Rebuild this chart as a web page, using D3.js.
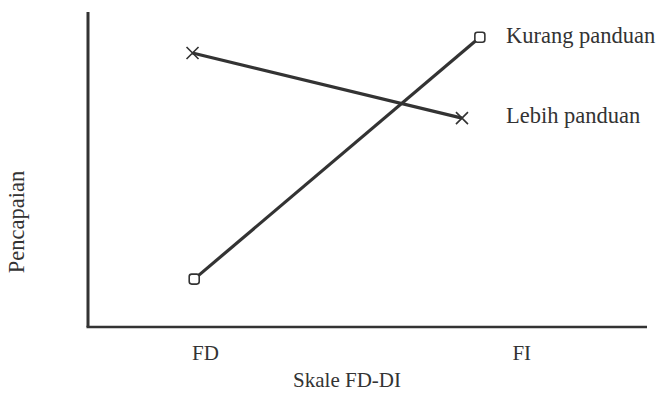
<!DOCTYPE html>
<html><head><meta charset="utf-8">
<script src="https://cdn.jsdelivr.net/npm/d3@7"></script>
<style>html,body{margin:0;padding:0;background:#fff;}svg{display:block;}</style>
</head><body>
<script>
// Data (arbitrary 0-100 scales)
const categories = ["FD", "FI"];
const categoryPos = [21, 77.6];          // x position of category labels
const seriesNames = ["Kurang panduan", "Lebih panduan"];
const kurangX = [19, 70.1];
const kurangY = [15.2, 92];
const lebihX = [18.7, 66.9];
const lebihY = [87, 66.3];
const xTitle = "Skale FD-DI";
const yTitle = "Pencapaian";

const W = 661, H = 394;
const svg = d3.select("body").append("svg").attr("width", W).attr("height", H);
const x = d3.scaleLinear().domain([0, 100]).range([88, 647]);
const y = d3.scaleLinear().domain([0, 100]).range([327, 12]);
const font = "'Liberation Serif', 'Times New Roman', serif";
const ink = "#333";

// axes
svg.append("line").attr("x1", x(0)).attr("x2", x(0)).attr("y1", y(100)).attr("y2", y(0))
  .attr("stroke", ink).attr("stroke-width", 3);
svg.append("line").attr("x1", x(0) - 1.5).attr("x2", x(100)).attr("y1", y(0)).attr("y2", y(0))
  .attr("stroke", ink).attr("stroke-width", 2.5);

// category labels
svg.selectAll("text.cat").data(categories).join("text").attr("class", "cat")
  .attr("x", (d, i) => x(categoryPos[i])).attr("y", 360)
  .attr("text-anchor", "middle").attr("font-family", font).attr("font-size", 21)
  .attr("fill", ink).text(d => d);

svg.append("text").attr("x", 347).attr("y", 387).attr("text-anchor", "middle")
  .attr("font-family", font).attr("font-size", 21).attr("fill", ink).text(xTitle);
svg.append("text").attr("transform", "translate(24,222) rotate(-90)").attr("text-anchor", "middle")
  .attr("font-family", font).attr("font-size", 22.5).attr("fill", ink).text(yTitle);

const line = d3.line().x(d => x(d[0])).y(d => y(d[1]));
const kurang = kurangX.map((v, i) => [v, kurangY[i]]);
const lebih = lebihX.map((v, i) => [v, lebihY[i]]);

svg.append("path").attr("d", line(kurang)).attr("fill", "none").attr("stroke", ink).attr("stroke-width", 3.2);
svg.append("path").attr("d", line(lebih)).attr("fill", "none").attr("stroke", ink).attr("stroke-width", 3.2);

// square markers
svg.selectAll("rect.sq").data(kurang).join("rect").attr("class", "sq")
  .attr("x", d => x(d[0]) - 5).attr("y", d => y(d[1]) - 5).attr("width", 10).attr("height", 10)
  .attr("rx", 2.5).attr("fill", "#fff").attr("stroke", ink).attr("stroke-width", 1.6);
// x markers
const xm = svg.selectAll("g.xm").data(lebih).join("g").attr("class", "xm")
  .attr("transform", d => `translate(${x(d[0])},${y(d[1])})`);
xm.append("path").attr("d", "M-6,-6L6,6M-6,6L6,-6").attr("stroke", ink).attr("stroke-width", 1.6).attr("fill", "none");

// series labels
svg.selectAll("text.lab").data(seriesNames).join("text").attr("class", "lab")
  .attr("x", 506).attr("y", (d, i) => i === 0 ? 43 : 123)
  .attr("font-family", font).attr("font-size", 22.5).attr("fill", ink).text(d => d);
</script>
</body></html>
